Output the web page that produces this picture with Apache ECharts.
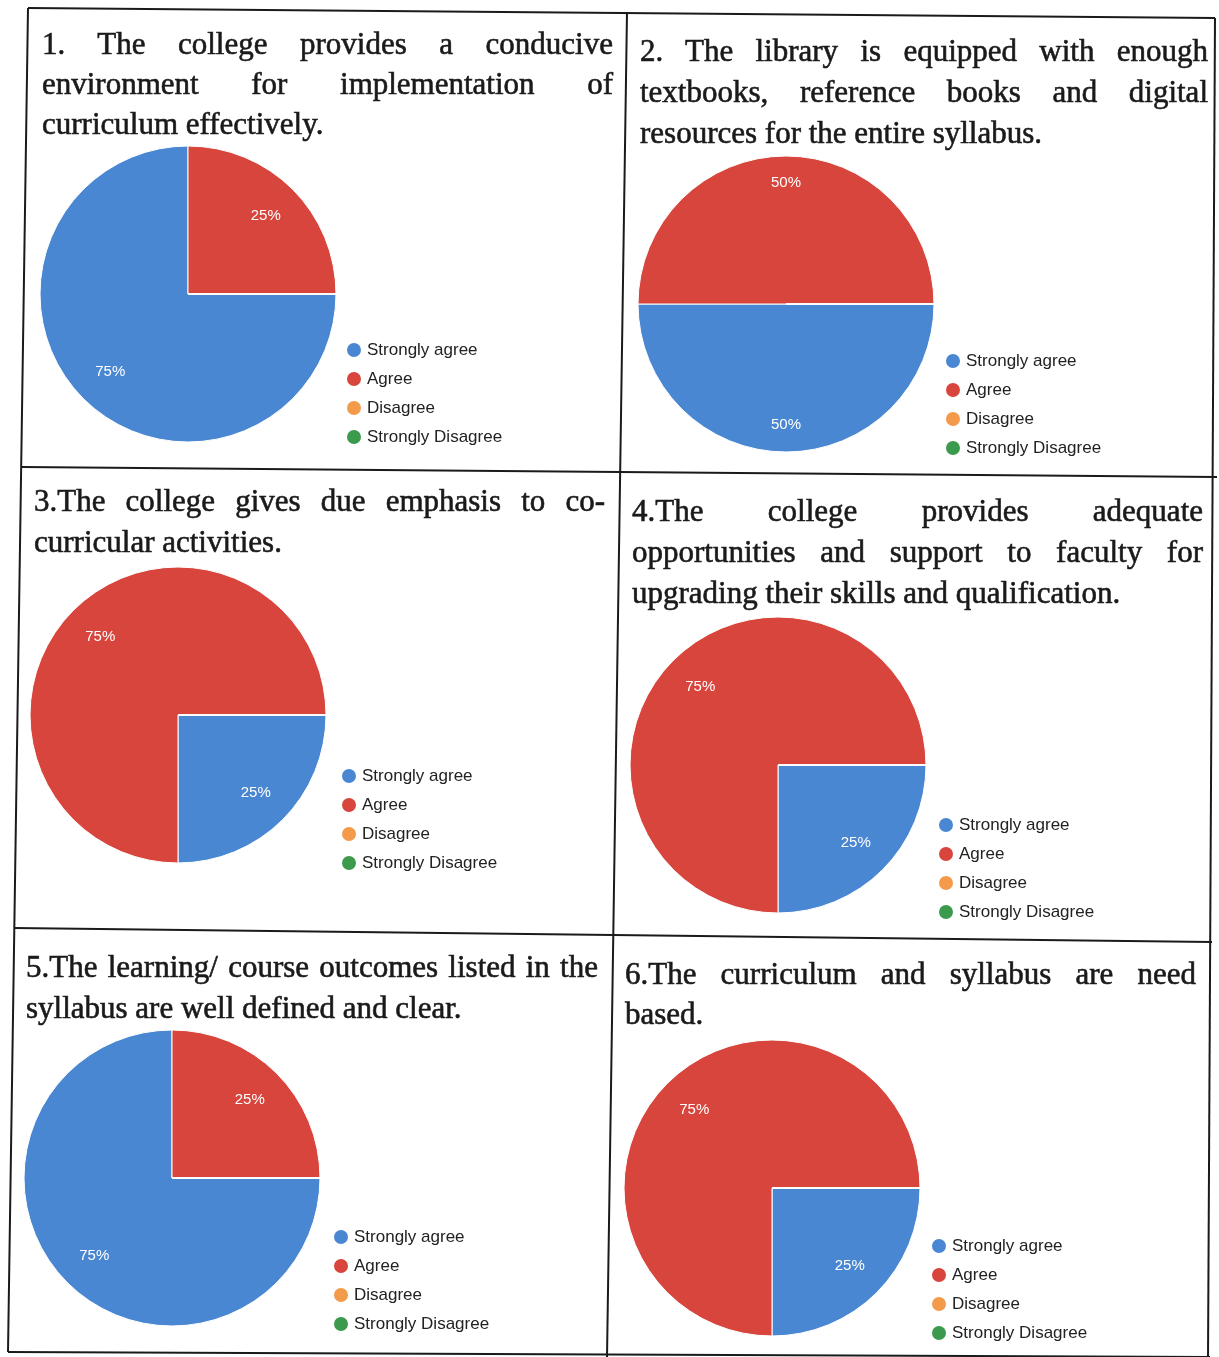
<!DOCTYPE html>
<html>
<head>
<meta charset="utf-8">
<script src="https://cdn.jsdelivr.net/npm/echarts@6/dist/echarts.min.js"></script>
<style>
  html, body { margin: 0; padding: 0; background: #fff; }
  #wrap { position: relative; width: 1219px; height: 1357px; overflow: hidden; }
  #chart { position: absolute; left: 0; top: 0; width: 1219px; height: 1357px; }
  .q { position: absolute; font-family: 'Liberation Serif', 'DejaVu Serif', serif; font-size: 31px; font-weight: normal; -webkit-text-stroke: 0.6px #1a1a1a; color: #1a1a1a; z-index: 2; }
  .q div { white-space: nowrap; text-align: justify; text-align-last: justify; }
  .q div.last { text-align: left; text-align-last: left; }
</style>
</head>
<body>
<div id="wrap">
  <div id="chart"></div>
</div>
<script>
// ---------- data ----------
const categories = ['Strongly agree', 'Agree', 'Disagree', 'Strongly Disagree'];
const q1Values = [75, 25, 0, 0];
const q2Values = [50, 50, 0, 0];
const q3Values = [25, 75, 0, 0];
const q4Values = [25, 75, 0, 0];
const q5Values = [75, 25, 0, 0];
const q6Values = [25, 75, 0, 0];
const q1Title = ['1. The college provides a conducive', 'environment for implementation of', 'curriculum effectively.'];
const q2Title = ['2. The library is equipped with enough', 'textbooks, reference books and digital', 'resources for the entire syllabus.'];
const q3Title = ['3.The college gives due emphasis to co-', 'curricular activities.'];
const q4Title = ['4.The college provides adequate', 'opportunities and support to faculty for', 'upgrading their skills and qualification.'];
const q5Title = ['5.The learning/ course outcomes listed in the', 'syllabus are well defined and clear.'];
const q6Title = ['6.The curriculum and syllabus are need', 'based.'];

const colors = ['#4a87d2', '#d8453c', '#f39a4b', '#3c9a4c'];

// ---------- layout ----------
const panels = [
  { values: q1Values, title: q1Title, cx: 188, cy: 294, r: 148, lr: 107, legX: 345, legY: 341, tx: 42, ty: 24, tw: 571, lh: 40 },
  { values: q2Values, title: q2Title, cx: 786, cy: 304, r: 148, lr: 118, legX: 944, legY: 352, tx: 640, ty: 30, tw: 568, lh: 41 },
  { values: q3Values, title: q3Title, cx: 178, cy: 715, r: 148, lr: 107, legX: 340, legY: 767, tx: 34, ty: 480, tw: 571, lh: 41 },
  { values: q4Values, title: q4Title, cx: 778, cy: 765, r: 148, lr: 107, legX: 937, legY: 816, tx: 632, ty: 490, tw: 571, lh: 41 },
  { values: q5Values, title: q5Title, cx: 172, cy: 1178, r: 148, lr: 107, legX: 332, legY: 1228, tx: 26, ty: 946, tw: 572, lh: 41 },
  { values: q6Values, title: q6Title, cx: 772, cy: 1188, r: 148, lr: 107, legX: 930, legY: 1237, tx: 625, ty: 954, tw: 571, lh: 40 }
];

// titles as justified HTML text
const wrap = document.getElementById('wrap');
panels.forEach(p => {
  const d = document.createElement('div');
  d.className = 'q';
  d.style.left = p.tx + 'px';
  d.style.top = p.ty + 'px';
  d.style.width = p.tw + 'px';
  d.style.lineHeight = p.lh + 'px';
  p.title.forEach((line, i) => {
    const l = document.createElement('div');
    l.textContent = line;
    if (i === p.title.length - 1) l.className = 'last';
    d.appendChild(l);
  });
  wrap.appendChild(d);
});

const chart = echarts.init(document.getElementById('chart'), null, { renderer: 'canvas' });

const series = [];
const legends = [];
panels.forEach((p, idx) => {
  const data = categories.map((c, i) => ({ name: c, value: p.values[i], itemStyle: { color: colors[i] } }));
  series.push({
    type: 'pie',
    center: [p.cx, p.cy],
    radius: [0, p.r],
    startAngle: 0,
    clockwise: true,
    avoidLabelOverlap: false,
    label: { show: false },
    labelLine: { show: false },
    itemStyle: { borderColor: '#ffffff', borderWidth: 1 },
    emphasis: { disabled: true },
    data: data
  });
  // transparent companion pie used only to place the percentage labels
  series.push({
    type: 'pie',
    silent: true,
    center: [p.cx, p.cy],
    radius: [0, p.lr * 2],
    startAngle: 0,
    clockwise: true,
    avoidLabelOverlap: false,
    itemStyle: { color: 'rgba(0,0,0,0)' },
    label: {
      show: true,
      position: 'inside',
      color: '#ffffff',
      fontSize: 15,
      fontFamily: 'Liberation Sans, Arial, sans-serif',
      formatter: prm => prm.value ? prm.value + '%' : ''
    },
    labelLine: { show: false },
    emphasis: { disabled: true },
    data: categories.map((c, i) => ({ name: c, value: p.values[i] }))
  });
  legends.push({
    orient: 'vertical',
    left: p.legX,
    top: p.legY,
    padding: 0,
    icon: 'circle',
    itemWidth: 16,
    itemHeight: 16,
    itemGap: 11,
    selectedMode: false,
    textStyle: { fontSize: 17, lineHeight: 16, color: '#222', fontFamily: 'Liberation Sans, Arial, sans-serif' },
    data: categories.map((c, i) => ({ name: c, itemStyle: { color: colors[i] } }))
  });
});

const lineStyle = { stroke: '#1a1a1a', lineWidth: 2 };
const gridLines = [
  [28, 8, 1215, 18],
  [22, 467, 1217, 477],
  [14, 928, 1212, 942],
  [8, 1352, 1210, 1357],
  [28, 8, 8, 1352],
  [1215, 18, 1208, 1357],
  [627, 12, 607, 1357]
];

chart.setOption({
  backgroundColor: '#ffffff',
  animation: false,
  legend: legends,
  series: series,
  graphic: gridLines.map(l => ({
    type: 'line',
    silent: true,
    shape: { x1: l[0], y1: l[1], x2: l[2], y2: l[3] },
    style: lineStyle
  }))
});
</script>
</body>
</html>
